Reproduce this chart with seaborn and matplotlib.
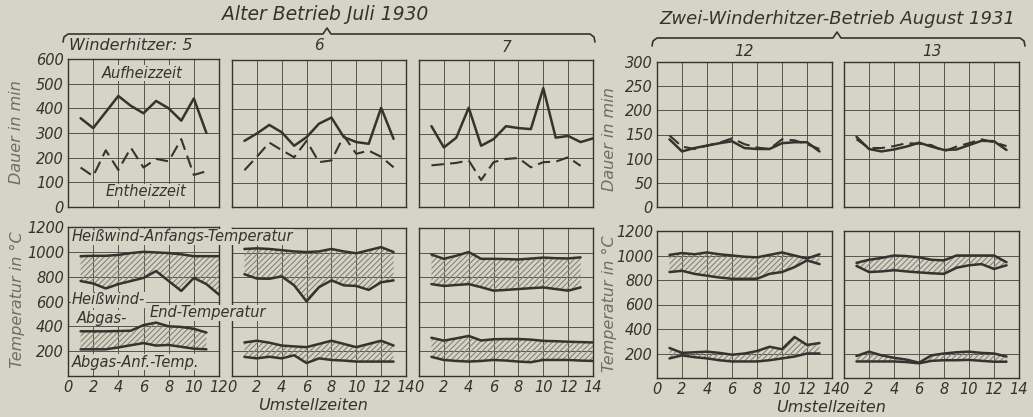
import numpy as np
import pandas as pd
import seaborn as sns
import matplotlib
matplotlib.use("Agg")
import matplotlib.pyplot as plt
from matplotlib.lines import Line2D

# ---------------- data ----------------
# Dauer in min  (Aufheizzeit = solid, Entheizzeit = dashed)
p5_auf = [360, 320, 385, 450, 410, 380, 430, 400, 350, 440, 300]
p5_ent = [160, 125, 230, 150, 240, 160, 195, 185, 275, 130, 145]
p6_auf = [270, 300, 335, 305, 250, 285, 340, 365, 285, 265, 258, 405, 278]
p6_ent = [150, 205, 263, 232, 203, 270, 183, 190, 290, 217, 230, 205, 162]
p7_auf = [330, 243, 283, 405, 250, 277, 330, 322, 318, 485, 283, 290, 265, 280]
p7_ent = [170, 175, 180, 190, 110, 183, 196, 200, 162, 183, 185, 203, 168]
p12_auf = [140, 115, 122, 127, 132, 136, 122, 120, 120, 132, 134, 134, 115]
p12_ent = [148, 125, 120, 127, 133, 142, 130, 123, 120, 140, 138, 130, 120]
p13_auf = [145, 120, 115, 119, 125, 133, 125, 118, 119, 128, 137, 136, 118]
p13_ent = [140, 122, 122, 126, 132, 131, 128, 115, 125, 132, 140, 134, 126]

# Temperatur in °C
p5_hw_anf = [965, 968, 968, 975, 990, 1000, 995, 990, 980, 965, 965, 965]
p5_hw_end = [765, 745, 705, 740, 765, 790, 845, 765, 685, 790, 740, 655]
p5_ab_end = [360, 360, 360, 362, 365, 410, 430, 400, 395, 380, 350]
p5_ab_anf = [215, 215, 215, 230, 248, 265, 245, 250, 235, 220, 215]

p6_hw_anf = [1030, 1035, 1030, 1020, 1010, 1005, 1010, 1030, 1010, 995, 1020, 1045, 1005]
p6_hw_end = [825, 790, 788, 808, 735, 605, 720, 775, 735, 730, 698, 760, 775]
p6_ab_end = [272, 286, 270, 247, 240, 234, 260, 286, 260, 234, 260, 286, 247]
p6_ab_anf = [155, 143, 156, 143, 168, 105, 143, 130, 125, 117, 117, 117, 117]

p7_hw_anf = [985, 950, 975, 1005, 950, 950, 948, 945, 952, 960, 955, 953, 962]
p7_hw_end = [745, 730, 738, 745, 720, 692, 698, 705, 712, 718, 705, 692, 718]
p7_ab_end = [310, 287, 305, 325, 288, 298, 300, 300, 295, 285, 282, 278, 275, 272]
p7_ab_anf = [155, 130, 122, 117, 122, 130, 125, 117, 112, 130, 130, 130, 125, 122]

p12_hw_anf = [1005, 1020, 1010, 1025, 1010, 1000, 990, 985, 1005, 1025, 1000, 975, 1010]
p12_hw_end = [865, 875, 850, 835, 820, 810, 810, 810, 850, 865, 905, 960, 930]
p12_ab_end = [245, 205, 210, 215, 205, 190, 200, 220, 255, 235, 335, 270, 285]
p12_ab_anf = [160, 185, 170, 160, 145, 135, 135, 135, 145, 160, 175, 200, 200]

p13_hw_anf = [940, 965, 980, 1000, 995, 985, 965, 960, 1000, 1000, 1000, 1000, 945]
p13_hw_end = [915, 865, 870, 880, 870, 862, 855, 850, 900, 920, 930, 890, 920]
p13_ab_end = [180, 215, 185, 165, 150, 125, 185, 200, 210, 215, 205, 200, 175]
p13_ab_anf = [135, 135, 135, 135, 130, 120, 140, 145, 145, 148, 140, 133, 133]

panel_names = ["Winderhitzer: 5", "6", "7", "12", "13"]
group_titles = ["Alter Betrieb Juli 1930", "Zwei-Winderhitzer-Betrieb August 1931"]
xlabel_text = "Umstellzeiten"
ylabel_dauer = "Dauer in min"
ylabel_temp = "Temperatur in °C"

# ---------------- style ----------------
BG = "#d6d4c7"
INK = "#34332e"
GRID = "#55544d"
HATCH = "#858479"

sns.set_theme(style="white")
plt.rcParams.update({
    "hatch.linewidth": 0.8,
    "hatch.color": HATCH,
    "axes.linewidth": 1.0,
})
plt.rcParams["font.family"] = ["DejaVu Sans"]

W, H = 1033, 417
fig = plt.figure(figsize=(W / 100, H / 100), dpi=100, facecolor=BG)


def add_ax(x0, x1, y0, y1):
    return fig.add_axes([x0 / W, 1 - y1 / H, (x1 - x0) / W, (y1 - y0) / H])


def style_ax(ax, xmax, ymax, ystep, show_y, show_x):
    ax.set_facecolor(BG)
    ax.set_xlim(0, xmax)
    ax.set_ylim(0, ymax)
    ax.set_xticks(np.arange(0, xmax + 1, 2))
    ax.set_yticks(np.arange(0, ymax + 1, ystep))
    ax.grid(True, color=GRID, lw=0.7)
    ax.set_axisbelow(True)
    for s in ax.spines.values():
        s.set_color(INK)
        s.set_linewidth(1.0)
    ax.tick_params(length=0, pad=3, labelsize=10.5, colors=INK)
    for lab in ax.get_xticklabels() + ax.get_yticklabels():
        lab.set_fontstyle("italic")
    if not show_y:
        ax.set_yticklabels([])
    if not show_x:
        ax.set_xticklabels([])
    ax.set_xlabel("")
    ax.set_ylabel("")


def dauer(ax, solid, dashed):
    xs = np.arange(1, len(solid) + 1)
    xd = np.arange(1, len(dashed) + 1)
    sns.lineplot(x=xs, y=solid, ax=ax, color=INK, lw=1.8, legend=False)
    sns.lineplot(x=xd, y=dashed, ax=ax, color=INK, lw=1.5, linestyle=(0, (6, 3)), legend=False)


def band(ax, top, bot):
    xt = np.arange(1, len(top) + 1)
    xb = np.arange(1, len(bot) + 1)
    n = min(len(top), len(bot))
    ax.fill_between(xt[:n], np.array(bot[:n]), np.array(top[:n]), facecolor="none",
                    edgecolor=HATCH, hatch="//////", linewidth=0)
    sns.lineplot(x=xt, y=top, ax=ax, color=INK, lw=1.8, legend=False)
    sns.lineplot(x=xb, y=bot, ax=ax, color=INK, lw=1.8, legend=False)


# panel geometry in pixels: (x0, x1, top-y0, top-y1, bottom-y0, bottom-y1, xmax)
geo = [
    (68, 219, 59, 207, 227, 376, 12),
    (232, 406, 60, 207, 228, 376, 14),
    (419, 593, 60, 207, 228, 376, 14),
    (657, 832, 62, 207, 231, 378, 14),
    (844, 1019, 62, 207, 231, 378, 14),
]
dauer_data = [(p5_auf, p5_ent), (p6_auf, p6_ent), (p7_auf, p7_ent),
              (p12_auf, p12_ent), (p13_auf, p13_ent)]
temp_data = [(p5_hw_anf, p5_hw_end, p5_ab_end, p5_ab_anf),
             (p6_hw_anf, p6_hw_end, p6_ab_end, p6_ab_anf),
             (p7_hw_anf, p7_hw_end, p7_ab_end, p7_ab_anf),
             (p12_hw_anf, p12_hw_end, p12_ab_end, p12_ab_anf),
             (p13_hw_anf, p13_hw_end, p13_ab_end, p13_ab_anf)]

for i, (x0, x1, ty0, ty1, by0, by1, xmax) in enumerate(geo):
    show_y = i in (0, 3)
    ymax, ystep = (600, 100) if i < 3 else (300, 50)
    axt = add_ax(x0, x1, ty0, ty1)
    dauer(axt, *dauer_data[i])
    style_ax(axt, xmax, ymax, ystep, show_y, False)

    axb = add_ax(x0, x1, by0, by1)
    a, e, ae, aa = temp_data[i]
    band(axb, a, e)
    band(axb, ae, aa)
    style_ax(axb, xmax, 1200, 200, show_y, True)
    if show_y:
        labs = [str(v) if v > 0 else "" for v in range(0, 1201, 200)]
        axb.set_yticklabels(labs)
        for lab in axb.get_yticklabels():
            lab.set_fontstyle("italic")

# ---------------- texts ----------------
def ftext(x, y, s, **kw):
    kw.setdefault("fontstyle", "italic")
    kw.setdefault("color", INK)
    return fig.text(x / W, 1 - y / H, s, **kw)

ftext(325, 15, group_titles[0], fontsize=13.5, ha="center", va="center")
ftext(837, 19, group_titles[1], fontsize=13, ha="center", va="center")

ftext(69, 45, panel_names[0], fontsize=11.5, ha="left", va="center")
ftext(319, 46, panel_names[1], fontsize=11, ha="center", va="center")
ftext(506, 48, panel_names[2], fontsize=11, ha="center", va="center")
ftext(744, 51, panel_names[3], fontsize=11, ha="center", va="center")
ftext(932, 51, panel_names[4], fontsize=11, ha="center", va="center")

ylab_kw = dict(fontsize=11.5, rotation=90, ha="center", va="center", color="#6e6d66")
ftext(17, 132, ylabel_dauer, **ylab_kw)
ftext(17, 300, ylabel_temp, **ylab_kw)
ftext(609, 139, ylabel_dauer, **ylab_kw)
ftext(609, 304, ylabel_temp, **ylab_kw)

ftext(313, 405, xlabel_text, fontsize=11.5, ha="center", va="center")
ftext(831, 407, xlabel_text, fontsize=11.5, ha="center", va="center")

box = dict(facecolor=BG, edgecolor="none", pad=0.6)
ftext(142, 73, "Aufheizzeit", fontsize=10.5, ha="center", va="center", bbox=box)
ftext(146, 192, "Entheizzeit", fontsize=10.5, ha="center", va="center", bbox=box)
ftext(72, 237, "Heißwind-Anfangs-Temperatur", fontsize=10.5, ha="left", va="center", bbox=box)
ftext(72, 300, "Heißwind-", fontsize=10.5, ha="left", va="center", bbox=box)
ftext(77, 318, "Abgas-", fontsize=10.5, ha="left", va="center", bbox=box)
ftext(150, 313, "End-Temperatur", fontsize=10.5, ha="left", va="center", bbox=box)
ftext(72, 362, "Abgas-Anf.-Temp.", fontsize=10.5, ha="left", va="center", bbox=box)

# ---------------- braces ----------------
def brace(x0, x1, xm, y):
    xs = [x0, x0 + 1, x0 + 5, xm - 4, xm, xm + 4, x1 - 5, x1 - 1, x1]
    ys = [y + 8, y + 3, y, y, y - 6, y, y, y + 3, y + 8]
    fig.add_artist(Line2D([v / W for v in xs], [1 - v / H for v in ys],
                          transform=fig.transFigure, color=INK, lw=1.2))

brace(63, 595, 327, 34)
brace(652, 1025, 837, 38)

fig.savefig("out.png", dpi=100, facecolor=BG)
